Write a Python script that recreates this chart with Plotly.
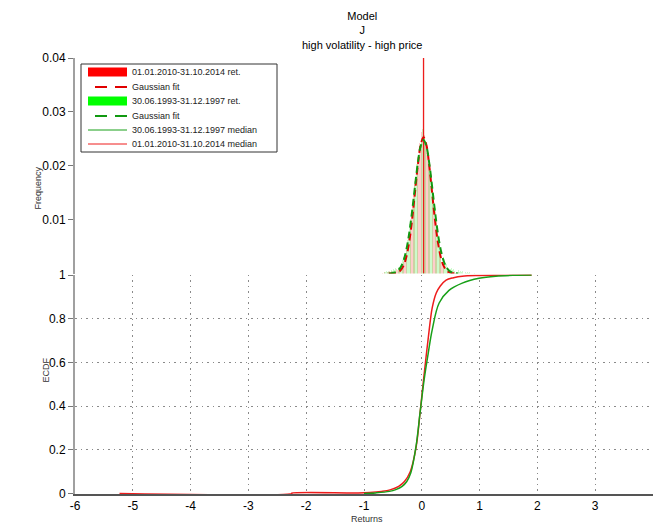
import plotly.graph_objects as go

# ---------------- data ----------------
bin_width = 0.02
bins_2010 = [round(-0.70 + bin_width * i, 2) for i in range(81)]
bins_1993 = [round(-0.69 + bin_width * i, 2) for i in range(81)]

hist_2010 = [0, 0.0001, 0, 0.0002, 0.0001, 0.0003, 0.0002, 0.0004, 0.0003, 0.0005,
             0.0004, 0.0006, 0.0005, 0.0008, 0.0007,
             0.0011, 0.0009, 0.0014, 0.0017, 0.0022, 0.0026, 0.0035, 0.0042, 0.0058, 0.0068,
             0.0091, 0.0104, 0.0130, 0.0145, 0.0172, 0.0186, 0.0211, 0.0220, 0.0242, 0.0236,
             0.0262, 0.0248, 0.0258, 0.0241, 0.0235, 0.0218, 0.0199, 0.0185, 0.0160, 0.0134,
             0.0118, 0.0095, 0.0080, 0.0061, 0.0049, 0.0036, 0.0030, 0.0021, 0.0017, 0.0012,
             0.0010, 0.0007, 0.0006, 0.0004, 0.0003, 0.0003, 0.0002, 0.0002, 0.0001, 0.0001,
             0.0001, 0, 0, 0, 0, 0, 0, 0, 0, 0, 0, 0, 0, 0, 0, 0]

hist_1993 = [0.0002, 0.0001, 0.0003, 0.0002, 0.0004, 0.0003, 0.0005, 0.0004, 0.0006, 0.0005,
             0.0008, 0.0007, 0.0010, 0.0009, 0.0012,
             0.0011, 0.0016, 0.0019, 0.0025, 0.0031, 0.0040, 0.0046, 0.0062, 0.0071, 0.0092,
             0.0101, 0.0128, 0.0139, 0.0166, 0.0175, 0.0203, 0.0210, 0.0236, 0.0240, 0.0252,
             0.0268, 0.0300, 0.0255, 0.0246, 0.0239, 0.0221, 0.0212, 0.0190, 0.0172, 0.0158,
             0.0136, 0.0122, 0.0101, 0.0090, 0.0071, 0.0062, 0.0047, 0.0041, 0.0030, 0.0026,
             0.0019, 0.0017, 0.0012, 0.0013, 0.0009, 0.0011, 0.0007, 0.0009, 0.0005, 0.0007,
             0.0004, 0.0006, 0.0003, 0.0005, 0.0002, 0.0004, 0.0002, 0.0003, 0.0001, 0.0002,
             0.0001, 0.0002, 0.0001, 0.0001, 0, 0.0001]

gauss_x = [-0.57, -0.52, -0.47, -0.42, -0.37, -0.32, -0.27, -0.22, -0.17, -0.12, -0.07, -0.02,
           0.03, 0.08, 0.13, 0.18, 0.23, 0.28, 0.33, 0.38, 0.43, 0.48, 0.53, 0.58, 0.63]
gauss_2010 = [0.0, 0.00002, 0.00007, 0.00021, 0.00056, 0.00137, 0.00298, 0.00572, 0.00977,
              0.01482, 0.01995, 0.02384, 0.0253, 0.02384, 0.01995, 0.01482, 0.00977, 0.00572,
              0.00298, 0.00137, 0.00056, 0.00021, 0.00007, 0.00002, 0.0]
gauss_1993 = [0.00002, 0.00007, 0.00019, 0.00048, 0.00109, 0.00227, 0.00428, 0.00732, 0.01135,
              0.01598, 0.0204, 0.02362, 0.0248, 0.02362, 0.0204, 0.01598, 0.01135, 0.00732,
              0.00428, 0.00227, 0.00109, 0.00048, 0.00019, 0.00007, 0.00002]

median_2010 = 0.03
median_1993 = 0.03
freq_max = 0.04

ecdf_2010_x = [-5.23, -2.25, -2.25, -1.1, -0.9, -0.7, -0.55, -0.4, -0.3, -0.2, -0.1, -0.03, 0.03,
               0.08, 0.128, 0.18, 0.25, 0.32, 0.42, 0.55, 0.70, 1.0, 1.4, 1.9]
ecdf_2010_y = [0, 0, 0.002, 0.003, 0.005, 0.01, 0.017, 0.033, 0.055, 0.1, 0.21, 0.37, 0.52,
               0.64, 0.749, 0.85, 0.918, 0.95, 0.977, 0.988, 0.995, 0.998, 0.999, 1.0]

ecdf_1993_x = [-1.0, -0.8, -0.56, -0.45, -0.34, -0.26, -0.19, -0.10, -0.03, 0.04, 0.11, 0.18,
               0.30, 0.47, 0.70, 0.99, 1.28, 1.6, 1.9]
ecdf_1993_y = [0, 0.003, 0.01, 0.018, 0.033, 0.055, 0.095, 0.216, 0.37, 0.52, 0.64, 0.749,
               0.872, 0.93, 0.963, 0.985, 0.995, 0.999, 1.0]

x_ticks = [-6, -5, -4, -3, -2, -1, 0, 1, 2, 3, 4]
x_ticktext = ["-6", "-5", "-4", "-3", "-2", "-1", "0", "1", "2", "3", "4"]
ecdf_ticks = [0, 0.2, 0.4, 0.6, 0.8, 1]
ecdf_ticktext = ["0", "0.2", "0.4", "0.6", "0.8", "1"]
freq_ticks = [0.01, 0.02, 0.03, 0.04]
freq_ticktext = ["0.01", "0.02", "0.03", "0.04"]

lbl_2010 = "01.01.2010-31.10.2014"
lbl_1993 = "30.06.1993-31.12.1997"
legend_labels = [lbl_2010 + " ret.", "Gaussian fit", lbl_1993 + " ret.", "Gaussian fit",
                 lbl_1993 + " median", lbl_2010 + " median"]

RED_FIT = "#e00000"
GREEN_FIT = "#119911"
RED_L = "#ee1c1c"
GREEN_L = "#18a018"

W, H = 653, 526
ML, MR, MT, MB = 75, 0, 58, 32
PW, PH = W - ML - MR, H - MT - MB


def px(x):
    return (x - ML) / PW


def py(y):
    return (H - MB - y) / PH


fig = go.Figure()

# ---- top panel: histograms ----
fig.add_trace(go.Bar(x=bins_2010, y=hist_2010, width=0.014,
                     marker=dict(color="rgba(255,0,0,0.2)", line=dict(width=0)),
                     showlegend=False, xaxis="x2", yaxis="y2"))
fig.add_trace(go.Bar(x=bins_1993, y=hist_1993, width=0.014,
                     marker=dict(color="rgba(0,235,0,0.2)", line=dict(width=0)),
                     showlegend=False, xaxis="x2", yaxis="y2"))

fig.add_trace(go.Scatter(x=[median_1993, median_1993], y=[0, freq_max], mode="lines",
                         line=dict(color=GREEN_L, width=1), showlegend=False,
                         xaxis="x2", yaxis="y2"))
fig.add_trace(go.Scatter(x=[median_2010, median_2010], y=[0, freq_max], mode="lines",
                         line=dict(color=RED_L, width=1.3), showlegend=False,
                         xaxis="x2", yaxis="y2"))
fig.add_trace(go.Scatter(x=gauss_x, y=gauss_2010, mode="lines", line_shape="spline",
                         line=dict(color=RED_FIT, width=2, dash="7px,4px"),
                         showlegend=False, xaxis="x2", yaxis="y2"))
fig.add_trace(go.Scatter(x=gauss_x, y=gauss_1993, mode="lines", line_shape="spline",
                         line=dict(color=GREEN_FIT, width=2, dash="7px,4px"),
                         showlegend=False, xaxis="x2", yaxis="y2"))

# ---- bottom panel: ECDFs ----
fig.add_trace(go.Scatter(x=ecdf_2010_x, y=ecdf_2010_y, mode="lines", line_shape="spline",
                         line=dict(color=RED_L, width=1.5), showlegend=False))
fig.add_trace(go.Scatter(x=ecdf_1993_x, y=ecdf_1993_y, mode="lines", line_shape="spline",
                         line=dict(color=GREEN_L, width=1.5), showlegend=False))

FONT = "Liberation Sans, Arial, sans-serif"

# ---- legend (drawn as a MATLAB-style box) ----
shapes = [dict(type="rect", xref="paper", yref="paper", x0=px(81), x1=px(277),
               y0=py(152), y1=py(64), line=dict(color="#333333", width=1),
               fillcolor="white", layer="above")]
rows = [72, 87, 101, 116, 130, 144]
sym_kinds = [("rect", "#ff0000"), ("dash", RED_FIT), ("rect", "#00ff00"),
             ("dash", GREEN_FIT), ("line", GREEN_L), ("line", RED_L)]
annotations = []
for r, (kind, col), lab in zip(rows, sym_kinds, legend_labels):
    if kind == "rect":
        shapes.append(dict(type="rect", xref="paper", yref="paper", x0=px(88), x1=px(127),
                           y0=py(r + 4.5), y1=py(r - 4.5), line=dict(width=0),
                           fillcolor=col, layer="above"))
    elif kind == "dash":
        shapes.append(dict(type="line", xref="paper", yref="paper", x0=px(95), x1=px(127),
                           y0=py(r), y1=py(r), line=dict(color=col, width=2, dash="12px,8px"),
                           layer="above"))
    else:
        shapes.append(dict(type="line", xref="paper", yref="paper", x0=px(88), x1=px(127),
                           y0=py(r), y1=py(r), line=dict(color=col, width=1),
                           layer="above"))
    annotations.append(dict(text=lab, x=px(130), y=py(r), xref="paper", yref="paper",
                            xanchor="left", yanchor="middle", showarrow=False,
                            font=dict(size=9, color="#222222")))

annotations += [
    dict(text="Model<br>J<br>high volatility - high price", x=px(362), y=py(8),
         xref="paper", yref="paper", xanchor="center", yanchor="top",
         showarrow=False, font=dict(size=11, color="black")),
    dict(text="Frequency", x=px(30), y=py(165), xref="paper", yref="paper",
         textangle=-90, showarrow=False, font=dict(size=9, color="#333333")),
    dict(text="ECDF", x=px(38), y=py(385), xref="paper", yref="paper",
         textangle=-90, showarrow=False, font=dict(size=9, color="#333333")),
    dict(text="Returns", x=px(367), y=py(519), xref="paper", yref="paper",
         xanchor="center", yanchor="middle", showarrow=False,
         font=dict(size=9, color="#333333")),
]

GRID = dict(showgrid=True, gridcolor="#8a8a8a", griddash="1.5px,4px", gridwidth=1)

fig.update_layout(
    width=W, height=H,
    margin=dict(l=ML, r=MR, t=MT, b=MB),
    paper_bgcolor="white", plot_bgcolor="white",
    barmode="overlay", bargap=0,
    font=dict(family=FONT, size=12, color="black"),
    showlegend=False,
    xaxis=dict(domain=[0, 1], range=[-6, 4], tickvals=x_ticks, ticktext=x_ticktext,
               ticks="", showline=True, linecolor="#555555", linewidth=1.5,
               layer="below traces",
               zeroline=False, anchor="y", tickfont=dict(size=12), **GRID),
    yaxis=dict(domain=[0, py(274.6)], range=[-0.002, 1.002], tickvals=ecdf_ticks,
               ticktext=ecdf_ticktext,
               ticks="outside", ticklen=5, tickcolor="#777777",
               showline=True, linecolor="#a0a0a0", linewidth=2,
               layer="below traces",
               zeroline=False, anchor="x", tickfont=dict(size=12), **GRID),
    xaxis2=dict(domain=[0, 1], range=[-6, 4], matches="x", visible=False,
                showgrid=False, zeroline=False, showline=False, anchor="y2"),
    yaxis2=dict(domain=[py(273.5), py(58)], range=[0, freq_max], tickvals=freq_ticks,
                ticktext=freq_ticktext,
                ticks="outside", ticklen=5, tickcolor="#777777",
                showline=True, linecolor="#a0a0a0", linewidth=2,
                showgrid=False, zeroline=False, anchor="x2", tickfont=dict(size=12)),
    shapes=shapes,
    annotations=annotations,
)

fig.write_html("out.html", config={"displayModeBar": False},
               post_script="document.body.style.margin='0px';"
                           "document.body.style.overflow='hidden';")
